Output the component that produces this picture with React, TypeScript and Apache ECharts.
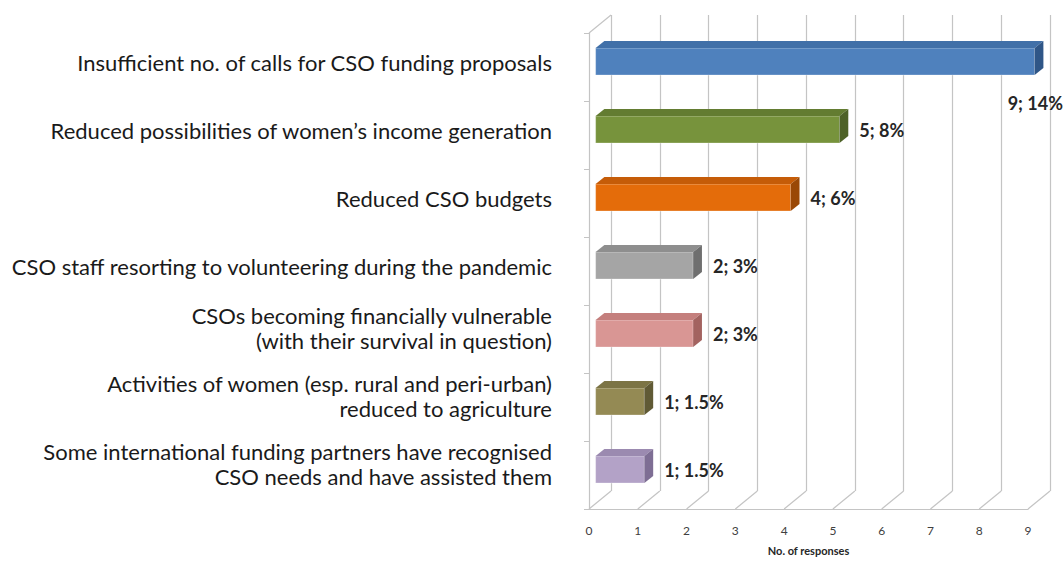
import React, { useEffect, useRef } from "react";
import * as echarts from "echarts";

const categories = [
  "Insufficient no. of calls for CSO funding proposals",
  "Reduced possibilities of women\u2019s income generation",
  "Reduced CSO budgets",
  "CSO staff resorting to volunteering during the pandemic",
  "CSOs becoming financially vulnerable\n(with their survival in question)",
  "Activities of women (esp. rural and peri-urban)\nreduced to agriculture",
  "Some international funding partners have recognised\nCSO needs and have assisted them",
];
const responses = [9, 5, 4, 2, 2, 1, 1];
const percentLabels = ["14%", "8%", "6%", "3%", "3%", "1.5%", "1.5%"];
const xTicks = [0, 1, 2, 3, 4, 5, 6, 7, 8, 9];
const frontColors = ["#4f81bd", "#77933c", "#e46c0a", "#a5a5a5", "#d99694", "#948a54", "#b3a2c7"];
const topColors = ["#4170a8", "#637c31", "#c55c08", "#8e8e8e", "#c47f7d", "#7c7445", "#9b8ab0"];
const sideColors = ["#2f5687", "#4e6227", "#9a4806", "#6f6f6f", "#a36360", "#605a35", "#7e6e94"];

const DX = 22;
const DY = -18;
const GRID_COLOR = "#c4c4c4";
const LABEL_FONT = "Lato";

export default function App() {
  const ref = useRef<HTMLDivElement>(null);
  useEffect(() => {
    if (!ref.current) return;
    const chart = echarts.init(ref.current, undefined, { renderer: "svg" });
    const option: any = {
      animation: false,
      backgroundColor: "#ffffff",
      grid: [
        { left: 589, top: 33, width: 439, height: 476, containLabel: false },
        { left: 589 + DX, top: 33 + DY, width: 439, height: 476, containLabel: false },
      ],
      xAxis: [
        {
          gridIndex: 0,
          type: "value",
          min: 0,
          max: 9,
          interval: 1,
          axisLine: { show: true, lineStyle: { color: GRID_COLOR, width: 1.2 } },
          axisTick: { show: false },
          splitLine: { show: false },
          axisLabel: { color: "#404040", fontSize: 12, margin: 15, fontFamily: LABEL_FONT },
          name: "No. of responses",
          nameLocation: "middle",
          nameGap: 36,
          nameTextStyle: { color: "#262626", fontSize: 11, fontWeight: "bold", fontFamily: LABEL_FONT },
        },
        {
          gridIndex: 1,
          type: "value",
          min: 0,
          max: 9,
          interval: 1,
          axisLine: { show: false },
          axisTick: { show: false },
          axisLabel: { show: false },
          splitLine: { show: true, showMinLine: true, showMaxLine: true, lineStyle: { color: GRID_COLOR, width: 1.2 } },
        },
      ],
      yAxis: [
        {
          gridIndex: 0,
          type: "category",
          inverse: true,
          data: categories,
          axisLine: { show: true, lineStyle: { color: GRID_COLOR, width: 1.2 } },
          axisTick: { show: true, length: 5, lineStyle: { color: GRID_COLOR } },
          axisLabel: {
            interval: 0,
            margin: 37,
            align: "right",
            formatter: (v: string) => {
              const lines = v.split("\n");
              const body = lines.map((l) => `{t|${l}}`).join("\n");
              return lines.length > 1 ? `${body}\n{s2| }` : `${body}\n{s1| }`;
            },
            rich: {
              t: { color: "#1a1a1a", fontSize: 22, fontFamily: LABEL_FONT, lineHeight: 25, align: "right" },
              s1: { fontSize: 1, lineHeight: 10 },
              s2: { fontSize: 1, lineHeight: 22 },
            },
          },
        },
        {
          gridIndex: 1,
          type: "category",
          inverse: true,
          data: categories,
          axisLine: { show: false },
          axisTick: { show: false },
          axisLabel: { show: false },
        },
      ],
      series: [
        {
          type: "custom",
          name: "frame",
          xAxisIndex: 0,
          yAxisIndex: 0,
          z: 1,
          silent: true,
          data: xTicks.map((t) => [t, 0]),
          encode: { x: 0, y: 1 },
          renderItem: (params: any, api: any) => {
            const cs = params.coordSys;
            const x = api.coord([api.value(0), 0])[0];
            const bottom = cs.y + cs.height;
            const children: any[] = [
              {
                type: "line",
                shape: { x1: x, y1: bottom, x2: x + DX, y2: bottom + DY },
                style: { stroke: GRID_COLOR, lineWidth: 1.2 },
              },
            ];
            if (params.dataIndex === 0) {
              children.push({
                type: "line",
                shape: { x1: x, y1: cs.y, x2: x + DX, y2: cs.y + DY },
                style: { stroke: GRID_COLOR, lineWidth: 1.2 },
              });
            }
            return { type: "group", children };
          },
        },
        {
          type: "custom",
          name: "bars",
          xAxisIndex: 0,
          yAxisIndex: 0,
          z: 5,
          data: responses.map((v, i) => [v, i]),
          encode: { x: 0, y: 1 },
          renderItem: (params: any, api: any) => {
            const i = params.dataIndex;
            const v = api.value(0);
            const p0 = api.coord([0, i]);
            const p1 = api.coord([v, i]);
            const fx = 0.3 * DX;
            const fy = 0.3 * DY;
            const dx = 0.4 * DX;
            const dy = 0.4 * DY;
            const h = 27;
            const xl = p0[0] + fx;
            const xr = p1[0] + fx;
            const yc = p0[1] + fy;
            const top = yc - h / 2;
            const bot = yc + h / 2;
            const text = `${v}; ${percentLabels[i]}`;
            let tx = xr + dx + 11;
            let ty = yc;
            let align = "left";
            if (tx + 60 > api.getWidth()) {
              tx = api.getWidth() - 1;
              ty = bot + 28;
              align = "right";
            }
            return {
              type: "group",
              children: [
                {
                  type: "rect",
                  shape: { x: xl, y: top, width: xr - xl, height: h },
                  style: { fill: frontColors[i], stroke: "rgba(255,255,255,0.35)", lineWidth: 1 },
                },
                {
                  type: "polygon",
                  shape: { points: [[xl, top], [xr, top], [xr + dx, top + dy], [xl + dx, top + dy]] },
                  style: { fill: topColors[i] },
                },
                {
                  type: "polygon",
                  shape: { points: [[xr, top], [xr + dx, top + dy], [xr + dx, bot + dy], [xr, bot]] },
                  style: { fill: sideColors[i] },
                },
                {
                  type: "text",
                  x: tx,
                  y: ty,
                  style: {
                    text,
                    fill: "#262626",
                    font: `bold 18px ${LABEL_FONT}`,
                    textAlign: align,
                    textVerticalAlign: "middle",
                  },
                },
              ],
            };
          },
        },
      ],
    };
    chart.setOption(option);
    return () => chart.dispose();
  }, []);
  return (
    <div
      ref={ref}
      style={{ position: "fixed", left: 0, top: 0, width: 1064, height: 561, background: "#fff" }}
    />
  );
}
